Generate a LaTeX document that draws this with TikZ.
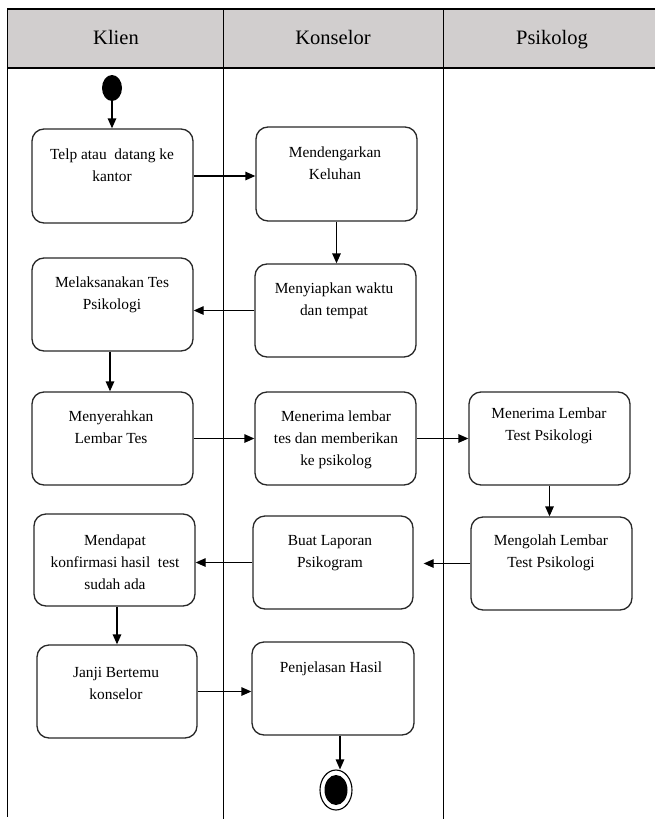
\documentclass[tikz,border=0pt]{standalone}
\usepackage{fontspec}
\setmainfont{Liberation Serif}
\usetikzlibrary{arrows.meta,shapes.geometric}

\definecolor{headgray}{RGB}{209,206,206}
\definecolor{boxline}{RGB}{40,40,40}

\tikzset{
  swimline/.style={line width=1.0pt, black},
  frameline/.style={line width=1.6pt, black},
  actbox/.style={draw=boxline, line width=1.3pt, rounded corners=12pt,
    fill=white, inner sep=0pt},
  acttext/.style={anchor=north, inner sep=0pt, align=center,
    font=\fontsize{15.4}{22}\selectfont},
  lanehead/.style={anchor=base, inner sep=0pt, font=\fontsize{20.5}{24}\selectfont},
  flow/.style={line width=1.3pt, black,
    -{Triangle[length=10pt,width=8.5pt]}},
  startdot/.style={ellipse, fill=black, inner sep=0pt,
    minimum width=20pt, minimum height=26pt},
  enddot/.style={ellipse, draw=black, line width=1.1pt, fill=white, inner sep=0pt,
    minimum width=32pt, minimum height=40pt},
}

% activity box: name, x1, y1, x2, y2, text x, first baseline y, text
\newcommand{\actbox}[8]{%
  \node[actbox, minimum width=#4-#2, minimum height=#5-#3]
    (#1) at ({(#2+#4)/2},{(#3+#5)/2}) {};
  \node[acttext] (#1t) at (#6,#7-11) {\rule{0pt}{11pt}#8};
}

\begin{document}
\begin{tikzpicture}[x=1pt, y=-1pt]
\useasboundingbox (0,0) rectangle (655,819);

% swimlane header and frame
\fill[headgray] (7.5,9) rectangle (655,68);
\draw[frameline] (655,9) -- (7.5,9) -- (7.5,817);
\draw[frameline] (7.5,68) -- (655,68);
\draw[swimline] (223.5,9) -- (223.5,819);
\draw[swimline] (443,9) -- (443,819);

\node[lanehead] (hklien) at (116,44) {Klien};
\node[lanehead] (hkons) at (333,44) {Konselor};
\node[lanehead] (hpsi) at (552,44) {Psikolog};

% start and end
\node[startdot] (start) at (112,88) {};
\node[enddot] (fin) at (336,790) {};
\fill (fin.center) ellipse [x radius=11.5, y radius=15];

% Klien lane
\actbox{b1}{32}{129}{193}{223}{112}{159}{Telp atau~ datang ke\\kantor}
\actbox{b2}{32}{258}{193}{351}{112}{287}{Melaksanakan Tes\\Psikologi}
\actbox{b3}{32}{392}{193}{485}{111}{421.5}{Menyerahkan\\Lembar Tes}
\actbox{b4}{34}{514}{195}{606}{115}{545.5}{Mendapat\\konfirmasi hasil~ test\\sudah ada}
\actbox{b5}{37}{645}{197}{738}{116}{677.5}{Janji Bertemu\\konselor}

% Konselor lane
\actbox{k1}{256}{127}{417}{221}{335}{157.5}{Mendengarkan\\Keluhan}
\actbox{k2}{255}{264}{416}{357}{334}{293}{Menyiapkan waktu\\dan tempat}
\actbox{k3}{255}{392}{416}{485}{336}{421.5}{Menerima lembar\\tes dan memberikan\\ke psikolog}
\actbox{k4}{253}{516}{413}{609}{330}{545}{Buat Laporan\\Psikogram}
\actbox{k5}{252}{642}{414}{735}{331}{672.5}{Penjelasan Hasil}

% Psikolog lane
\actbox{p1}{469}{392}{630}{485}{549}{418.5}{Menerima Lembar\\Test Psikologi}
\actbox{p2}{471}{517}{632}{610}{551}{545.5}{Mengolah Lembar\\Test Psikologi}

% control flow
\draw[flow] (start.south) -- (start.south |- b1.north);
\draw[flow] (b1.east) -- (b1.east -| k1.west);
\draw[flow] (k1.south) -- (k1.south |- k2.north);
\draw[flow] (k2.west) -- (k2.west -| b2.east);
\draw[flow] ([xshift=-2.5pt]b2.south) -- ([xshift=-2.5pt]b2.south |- b3.north);
\draw[flow] (b3.east) -- (b3.east -| k3.west);
\draw[flow] (k3.east) -- (k3.east -| p1.west);
\draw[flow] (p1.south) -- (p1.south |- p2.north);
\draw[flow, shorten >=10pt] (p2.west) -- (p2.west -| k4.east);
\draw[flow] (k4.west) -- (k4.west -| b4.east);
\draw[flow] ([xshift=2.5pt]b4.south) -- ([xshift=2.5pt]b4.south |- b5.north);
\draw[flow] (b5.east) -- (b5.east -| k5.west);
\draw[flow] (k5.south -| fin.north) ++(4pt,0) coordinate (k5out)
  -- (k5out |- fin.north);
\end{tikzpicture}
\end{document}
